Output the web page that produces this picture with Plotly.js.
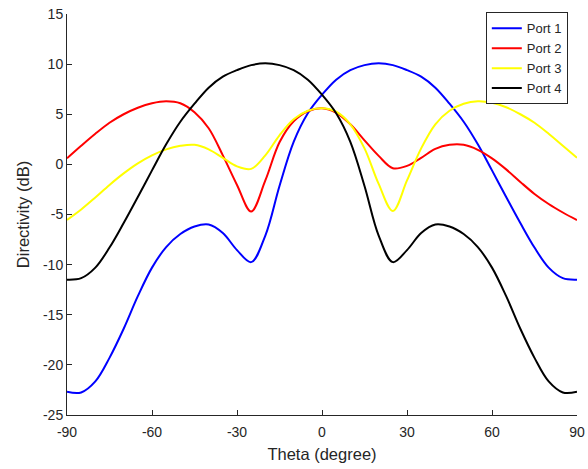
<!DOCTYPE html>
<html>
<head>
<meta charset="utf-8">
<script src="https://cdn.plot.ly/plotly-3.0.1.min.js"></script>
<style>html,body{margin:0;padding:0;background:#fff}#chart{width:588px;height:469px}</style>
</head>
<body>
<div id="chart"></div>
<script>
const theta = [-90,-85,-80,-75,-70,-65,-60,-55,-50,-45,-40,-35,-30,-25,-20,-15,-10,-5,0,5,10,15,20,25,30,35,40,45,50,55,60,65,70,75,80,85,90];
const port1 = [-22.68,-22.75,-21.65,-19.3,-16.4,-13.15,-10.3,-8.25,-6.95,-6.2,-6.0,-6.85,-8.55,-9.75,-7.1,-2.15,2.25,5.1,6.95,8.45,9.4,9.9,10.08,9.9,9.4,8.75,7.65,6.05,4.25,2.0,-0.6,-3.25,-5.85,-8.3,-10.3,-11.35,-11.5];
const port2 = [0.6,1.85,3.05,4.15,5.0,5.65,6.1,6.3,6.1,5.2,3.6,0.9,-2.05,-4.7,-1.6,2.2,4.3,5.3,5.6,5.15,4.0,2.4,0.85,-0.38,-0.15,0.65,1.55,1.95,1.95,1.45,0.6,-0.5,-1.75,-2.95,-3.95,-4.8,-5.56];
const port3 = [-5.55,-4.5,-3.3,-2.05,-0.9,0.1,0.9,1.5,1.85,1.95,1.5,0.65,-0.2,-0.45,0.9,2.9,4.5,5.35,5.6,5.25,4.0,1.6,-1.95,-4.65,-1.6,1.6,4.0,5.35,6.05,6.3,6.15,5.7,5.0,4.15,3.05,1.85,0.65];
const port4 = [-11.5,-11.35,-10.3,-8.3,-5.85,-3.25,-0.6,2.0,4.25,6.05,7.65,8.75,9.4,9.9,10.08,9.9,9.4,8.45,6.95,5.1,2.25,-2.15,-7.1,-9.75,-8.55,-6.85,-6.0,-6.2,-6.95,-8.25,-10.3,-13.15,-16.4,-19.3,-21.65,-22.75,-22.68];
const names = ['Port 1','Port 2','Port 3','Port 4'];
const colors = ['#0000FF','#FF0000','#FFFF00','#000000'];
const xTicks = [-90,-60,-30,0,30,60,90];
const yTicks = [-25,-20,-15,-10,-5,0,5,10,15];

const FONT = 'Liberation Sans, Arial, Helvetica, sans-serif';
const series = [port1, port2, port3, port4];
const traces = series.map((ys, i) => ({
  x: theta, y: ys, name: names[i], type: 'scatter', mode: 'lines',
  line: {color: colors[i], width: 2, shape: 'spline', smoothing: 1}
}));

const axisCommon = {
  showgrid: false, zeroline: false, showline: true, linecolor: '#262626', linewidth: 1,
  ticks: 'inside', ticklen: 5, tickcolor: '#262626', tickwidth: 1,
  tickfont: {family: FONT, size: 14, color: '#262626'},
  mirror: false
};

const layout = {
  width: 588, height: 469,
  margin: {l: 67, r: 11, t: 14, b: 54},
  paper_bgcolor: '#fff', plot_bgcolor: '#fff',
  showlegend: true,
  legend: {
    x: 0.982, y: 1.004, xanchor: 'right', yanchor: 'top',
    bgcolor: '#fff', bordercolor: '#262626', borderwidth: 1,
    font: {family: FONT, size: 13, color: '#262626'},
    itemwidth: 30, tracegroupgap: 0
  },
  xaxis: Object.assign({}, axisCommon, {
    range: [-90, 90], tickvals: xTicks, ticktext: xTicks.map(String),
    ticklabelstandoff: 4,
    title: {text: 'Theta (degree)', font: {family: FONT, size: 16.5, color: '#262626'}, standoff: 9}
  }),
  yaxis: Object.assign({}, axisCommon, {
    range: [-25, 15], tickvals: yTicks, ticktext: yTicks.map(String),
    title: {text: 'Directivity (dB)', font: {family: FONT, size: 16.5, color: '#262626'}, standoff: 9}
  })
};

Plotly.newPlot('chart', traces, layout, {displayModeBar: false, staticPlot: true});
</script>
</body>
</html>
